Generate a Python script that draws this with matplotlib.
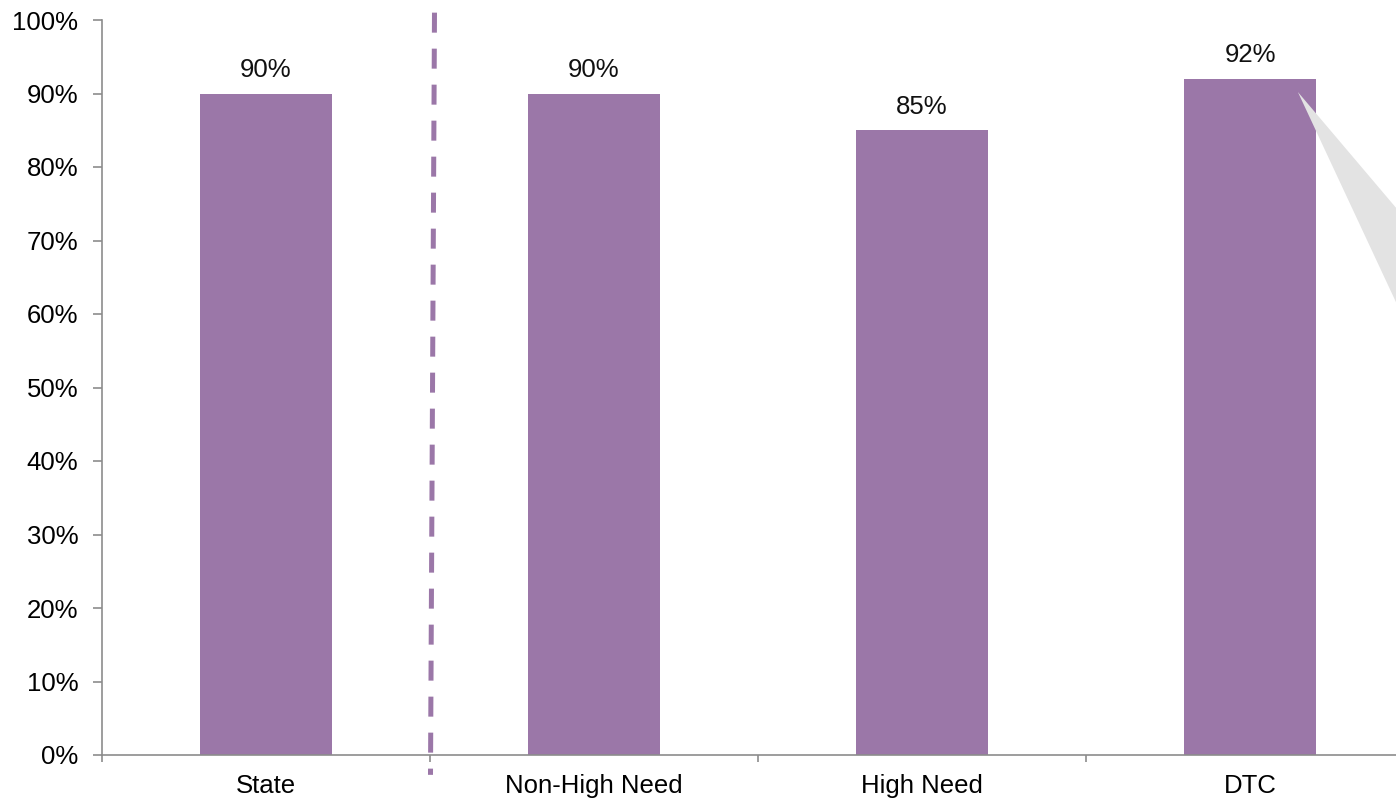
import matplotlib
matplotlib.use("Agg")
import matplotlib.pyplot as plt
from matplotlib.patches import Polygon
from matplotlib.ticker import FuncFormatter

# values per group (percent)
groups = ["State", "Non-High Need", "High Need", "DTC"]
rates = [90, 90, 85, 92]
y_ticks = list(range(0, 101, 10))

bar_color = "#9B77A8"
axis_grey = "#8C8C8C"
fs = 18.5

plt.rcParams["font.family"] = ["Liberation Sans", "DejaVu Sans"]
plt.rcParams["font.size"] = fs

fig = plt.figure(figsize=(13.96, 8.01), dpi=100)
ax = fig.add_axes([102 / 1396, 46 / 801, 1312 / 1396, 735 / 801])

x = list(range(len(groups)))
bars = ax.bar(x, rates, width=0.4, color=bar_color, zorder=2)

# value labels above each bar
for xi, v in zip(x, rates):
    ax.annotate(f"{v}%", (xi, v), xytext=(0, 12), textcoords="offset points",
                ha="center", va="baseline", fontsize=fs, color="#111111")

ax.set_xlim(-0.5, len(groups) - 0.5)
ax.set_ylim(0, 100)

# category boundaries get the tick marks, centres get the labels
ax.set_xticks([i - 0.5 for i in range(len(groups) + 1)])
ax.set_xticklabels([])
ax.set_xticks(x, minor=True)
ax.set_xticklabels(groups, minor=True)
ax.tick_params(axis="x", which="major", direction="out", length=5, width=1.2, color=axis_grey)
ax.tick_params(axis="x", which="minor", length=0, pad=14, labelsize=fs)

ax.set_yticks(y_ticks)
ax.yaxis.set_major_formatter(FuncFormatter(lambda v, p: f"{v:.0f}%"))
ax.tick_params(axis="y", direction="out", length=6.5, width=1.2, color=axis_grey, pad=10.5, labelsize=fs)

for side in ["top", "right"]:
    ax.spines[side].set_visible(False)
for side in ["left", "bottom"]:
    ax.spines[side].set_color(axis_grey)
    ax.spines[side].set_linewidth(1.2)

# dashed separator between state and the subgroups
sep, = ax.plot([0.5137, 0.5015], [101, -2.7], color=bar_color, lw=3.6,
               clip_on=False, zorder=3)
sep.set_dashes((4, 3.2))

# grey callout wedge coming off the DTC bar
wedge = Polygon([(3.146, 90.2), (3.6, 66.3), (3.6, 46.8)], closed=True,
                facecolor="#E3E3E3", edgecolor="none", clip_on=False, zorder=3)
ax.add_patch(wedge)

fig.savefig("out.png", dpi=100)
